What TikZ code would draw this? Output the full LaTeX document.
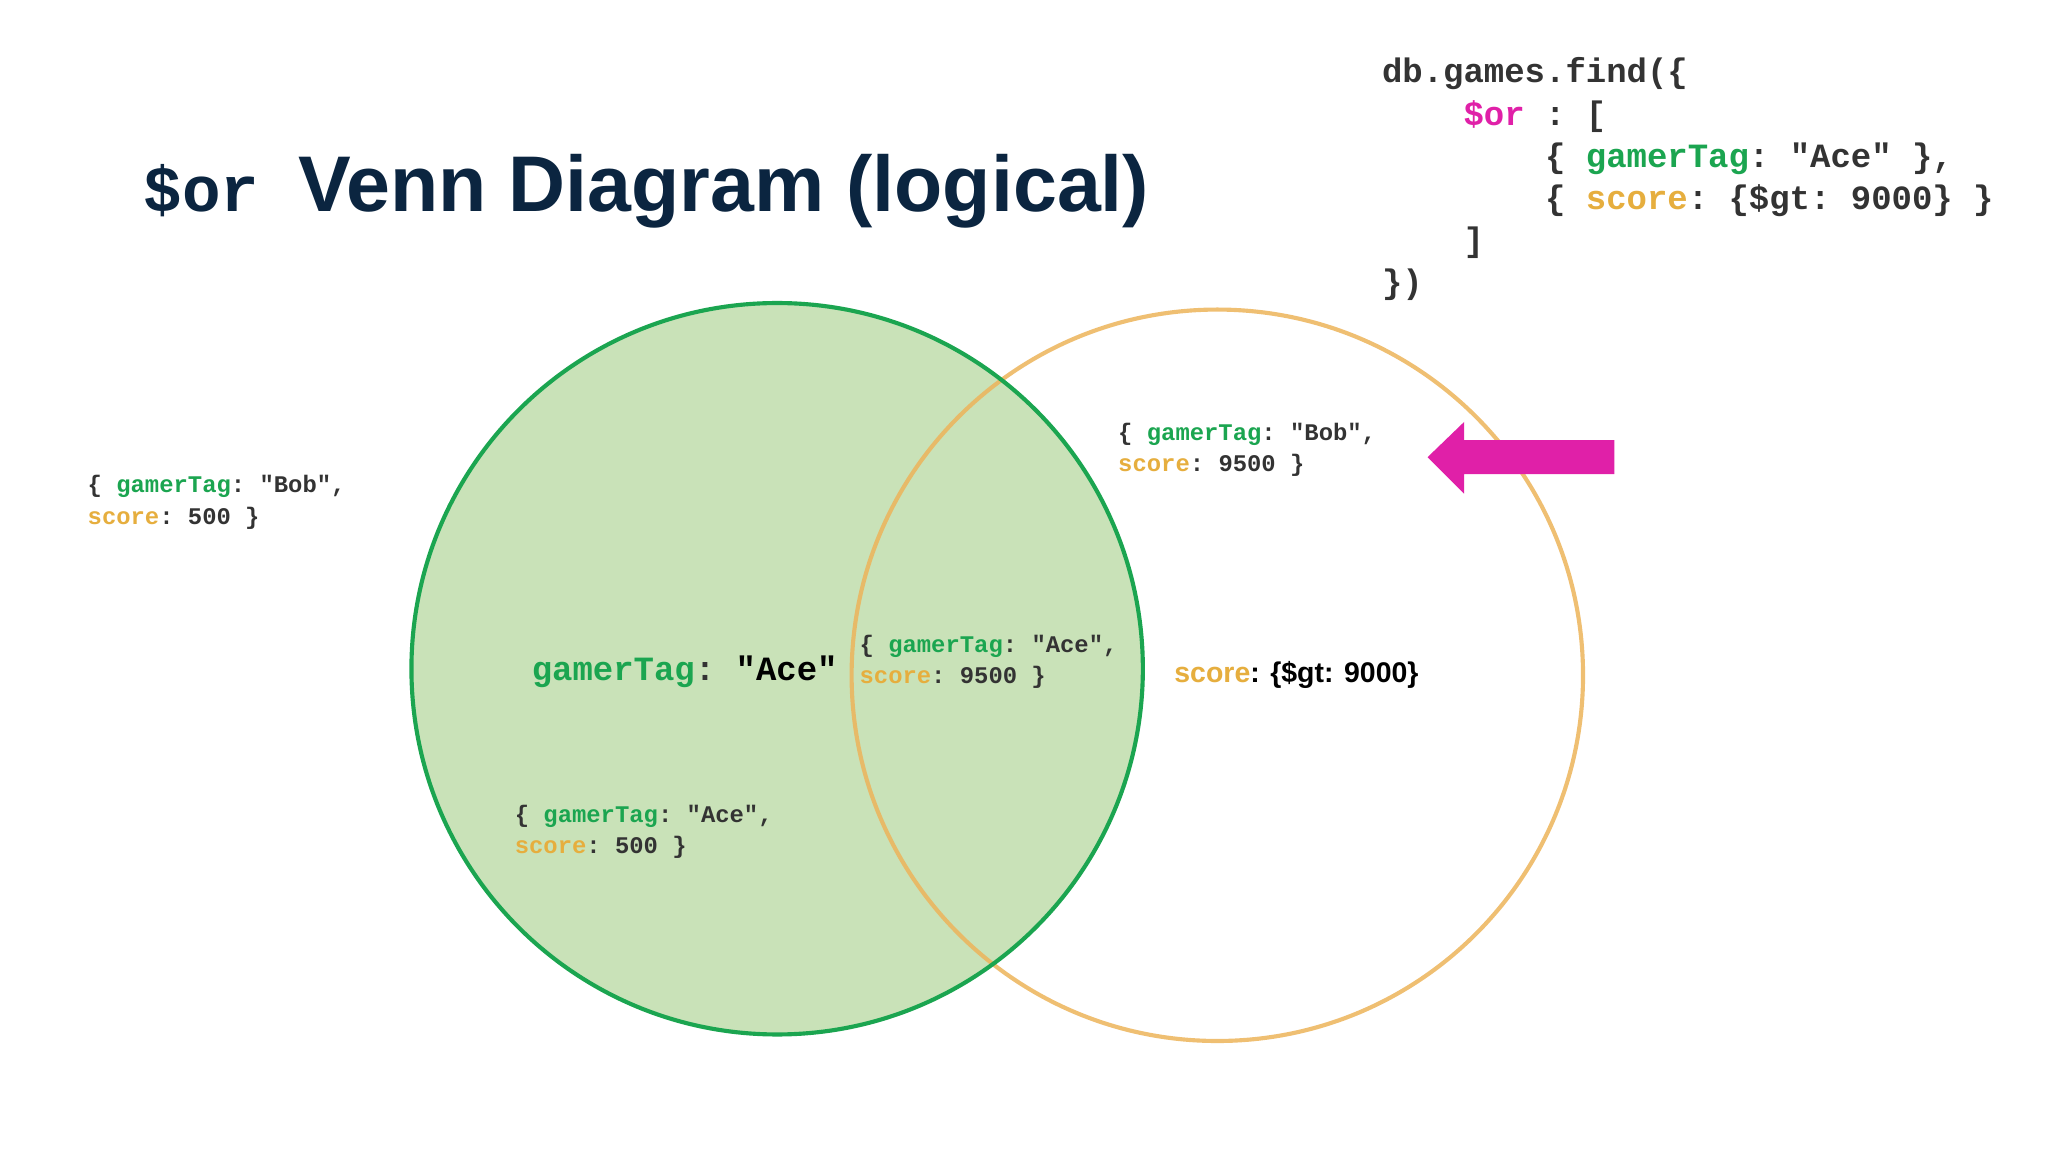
\documentclass[tikz,border=0pt]{standalone}
\usepackage{fontspec}
\setmainfont{Liberation Sans}
\setmonofont{Liberation Mono}
\definecolor{gr}{HTML}{1BA550}
\definecolor{grfill}{HTML}{C9E2B8}
\definecolor{og}{HTML}{EDB45A}
\definecolor{ogt}{HTML}{E6AE3E}
\definecolor{mg}{HTML}{E020A8}
\definecolor{navy}{HTML}{0B2540}
\definecolor{dk}{HTML}{333333}
\begin{document}
\begin{tikzpicture}[x=0.05cm,y=-0.05cm,
  big/.style={font=\fontsize{37}{46}\selectfont\ttfamily\bfseries, text=dk, align=left, inner sep=0},
  small/.style={font=\fontsize{26}{34}\selectfont\ttfamily\bfseries, text=dk, align=left, inner sep=0, anchor=north west}]
\useasboundingbox (0,0) rectangle (1568,882);
\fill[white] (0,0) rectangle (1568,882);
% circles
\fill[grfill] (595,512) circle (280);
\draw[og, line width=4.5pt, opacity=0.85] (932,517) circle (280);
\draw[gr, line width=4.5pt] (595,512) circle (280);
% title
\node[anchor=base west, inner sep=0, text=navy] (title) at (110,162)
  {\fontsize{70}{80}\selectfont\ttfamily\bfseries \$or\ \fontsize{86}{90}\selectfont\rmfamily\bfseries Venn Diagram (logical)};
% query
\node[big, anchor=north west] (q) at (1058,44) {db.games.find(\{\\
\ \ \ \ \textcolor{mg}{\$or} : [\\
\ \ \ \ \ \ \ \ \{ \textcolor{gr}{gamerTag}: "Ace" \},\\
\ \ \ \ \ \ \ \ \{ \textcolor{ogt}{score}: \{\$gt: 9000\} \}\\
\ \ \ \ ]\\
\})};
% docs
\node[small] (d1) at (67,364) {\{ \textcolor{gr}{gamerTag}: "Bob",\\\textcolor{ogt}{score}: 500 \}};
\node[small] (d2) at (856,324) {\{ \textcolor{gr}{gamerTag}: "Bob",\\\textcolor{ogt}{score}: 9500 \}};
\node[small] (d3) at (658,486) {\{ \textcolor{gr}{gamerTag}: "Ace",\\\textcolor{ogt}{score}: 9500 \}};
\node[small] (d4) at (394,616) {\{ \textcolor{gr}{gamerTag}: "Ace",\\\textcolor{ogt}{score}: 500 \}};
% labels
\node[big, anchor=west] (lg) at (407,514) {\textcolor{gr}{gamerTag}: \textcolor{black}{"Ace"}};
\node[anchor=west, inner sep=0, font=\fontsize{31}{36}\selectfont\bfseries] (ls) at (899,517) {\textcolor{ogt}{score}: \{\$gt: 9000\}};
% arrow
\coordinate (as) at (1236,350);
\coordinate (ae) at (1093,350);
\fill[mg] (1236,337) -- (1121,337) -- (1121,323) -- (1093,350) -- (1121,378) -- (1121,363) -- (1236,363) -- cycle;
\end{tikzpicture}
\end{document}
